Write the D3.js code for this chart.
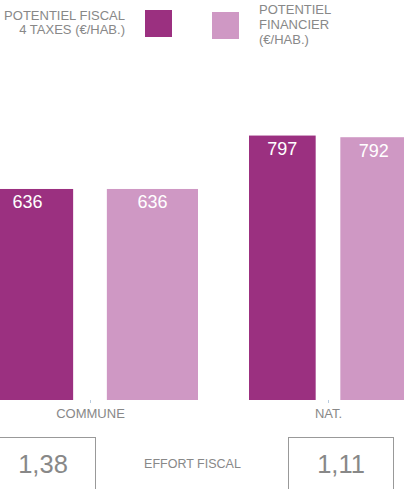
<!DOCTYPE html>
<html><head><meta charset="utf-8">
<script src="https://cdn.jsdelivr.net/npm/d3@7"></script>
<style>html,body{margin:0;padding:0;background:#fff;overflow:hidden}svg{display:block}</style>
</head><body>
<script>
const categories = ["COMMUNE", "NAT."];
const seriesNames = ["POTENTIEL FISCAL 4 TAXES (€/HAB.)", "POTENTIEL FINANCIER (€/HAB.)"];
const fiscal4Taxes = [636, 797];
const financier = [636, 792];
const effortFiscal = ["1,38", "1,11"];
const effortLabel = "EFFORT FISCAL";

const W = 404, H = 489;
const colors = ["#9b3080", "#cf98c4"];
const groupWidths = [216, 158];

const svg = d3.select("body").append("svg").attr("width", W).attr("height", H)
  .style("font-family", "'Liberation Sans', Arial, Helvetica, sans-serif");

const x = d3.scalePoint().domain(categories).range([90, 328]);
const y = d3.scaleLinear().domain([0, 1000]).range([400, 68.2]);

const data = categories.map((c, i) => ({cat: c, i, vals: [fiscal4Taxes[i], financier[i]]}));

const g = svg.selectAll("g.grp").data(data).enter().append("g").attr("class", "grp")
  .attr("transform", d => `translate(${x(d.cat)},0)`);

g.each(function(d) {
  const w = groupWidths[d.i];
  const inner = d3.scaleBand().domain([0, 1]).range([-w / 2, w / 2]).paddingInner(0.27);
  const sel = d3.select(this);
  sel.selectAll("rect").data(d.vals).enter().append("rect")
    .attr("x", (v, k) => inner(k)).attr("width", inner.bandwidth())
    .attr("y", v => y(v)).attr("height", v => y(0) - y(v))
    .attr("fill", (v, k) => colors[k]);
  sel.selectAll("text.val").data(d.vals).enter().append("text").attr("class", "val")
    .attr("x", (v, k) => inner(k) + inner.bandwidth() / 2)
    .attr("y", v => y(v) + 19.5)
    .attr("text-anchor", "middle").attr("fill", "#fff").attr("font-size", 18)
    .text(v => v);
});

// axis
const axis = svg.append("g").attr("transform", `translate(0,${y(0)})`)
  .call(d3.axisBottom(x).tickSize(3).tickPadding(6));
axis.select(".domain").remove();
axis.selectAll(".tick line").attr("stroke", "#b8cce0");
axis.selectAll(".tick text").attr("fill", "#888").attr("font-size", 13)
  .attr("font-family", "'Liberation Sans', Arial, sans-serif")
  .attr("dy", "0").attr("y", 18);

// legend
const leg1 = svg.append("text").attr("text-anchor", "end").attr("fill", "#888").attr("font-size", 13);
leg1.append("tspan").attr("x", 125).attr("y", 20).text("POTENTIEL FISCAL");
leg1.append("tspan").attr("x", 125).attr("y", 34).text("4 TAXES (€/HAB.)");
svg.append("rect").attr("x", 145).attr("y", 10).attr("width", 27).attr("height", 27).attr("fill", colors[0]);
svg.append("rect").attr("x", 212).attr("y", 12).attr("width", 27).attr("height", 27).attr("fill", colors[1]);
const leg2 = svg.append("text").attr("fill", "#888").attr("font-size", 13);
["POTENTIEL", "FINANCIER", "(€/HAB.)"].forEach((t, k) =>
  leg2.append("tspan").attr("x", 259).attr("y", 14 + k * 15).text(t));

// effort fiscal boxes
const boxW = 106;
const bx = d3.scalePoint().domain(categories).range([43, 341]);
const boxes = svg.selectAll("g.box").data(categories).enter().append("g").attr("class", "box")
  .attr("transform", c => `translate(${bx(c)},0)`);
boxes.append("rect").attr("x", -boxW / 2 + 0.5).attr("y", 437.5).attr("width", boxW - 1).attr("height", 70)
  .attr("fill", "none").attr("stroke", "#999").attr("stroke-width", 1);
boxes.append("text").attr("text-anchor", "middle").attr("y", 473).attr("fill", "#888")
  .attr("font-size", 25.5).text((c, i) => effortFiscal[i]);
svg.append("text").attr("x", 192.5).attr("y", 468).attr("text-anchor", "middle")
  .attr("fill", "#888").attr("font-size", 12.5).text(effortLabel);
</script>
</body></html>
